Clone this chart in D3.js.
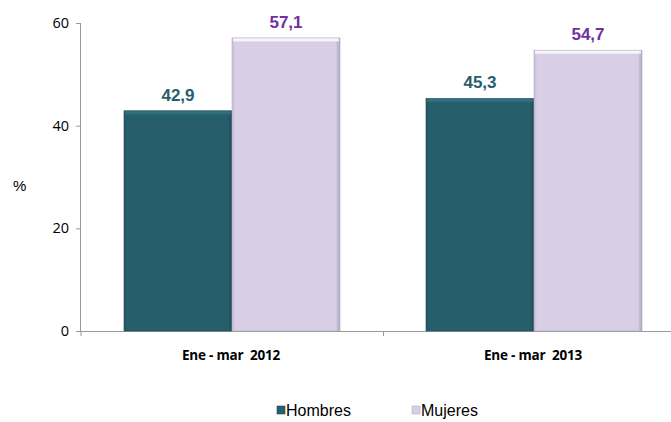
<!DOCTYPE html>
<html>
<head>
<meta charset="utf-8">
<script src="https://cdn.jsdelivr.net/npm/d3@7"></script>
<style>
  body { margin: 0; background: #fff; }
  svg { display: block; }
</style>
</head>
<body>
<div id="chart"></div>
<script>
// data
var categories = ["Ene - mar  2012", "Ene - mar  2013"];
var series = ["Hombres", "Mujeres"];
var hombres = [42.9, 45.3];
var mujeres = [57.1, 54.7];
var yTicks = [0, 20, 40, 60];

var colors = { Hombres: "#275e6c", Mujeres: "#d8cee6" };
var labelColors = { Hombres: "#275e6c", Mujeres: "#7030a0" };

var W = 671, H = 422;
var plotLeft = 81, plotTop = 23, plotBottom = 331, plotRight = 685;

var svg = d3.select("#chart").append("svg")
    .attr("width", W)
    .attr("height", H);

var defs = svg.append("defs");

// bevel-ish gradients (sides darker)
function bevel(id, base) {
  var c = d3.color(base);
  var g = defs.append("linearGradient").attr("id", id)
      .attr("x1", 0).attr("x2", 1).attr("y1", 0).attr("y2", 0);
  g.append("stop").attr("offset", "0%").attr("stop-color", c.darker(0.25));
  g.append("stop").attr("offset", "3%").attr("stop-color", base);
  g.append("stop").attr("offset", "96%").attr("stop-color", base);
  g.append("stop").attr("offset", "100%").attr("stop-color", c.darker(0.6));
}
bevel("g-Hombres", colors.Hombres);
bevel("g-Mujeres", colors.Mujeres);

var rows = categories.map(function(c, i) {
  return { cat: c, Hombres: hombres[i], Mujeres: mujeres[i] };
});

var y = d3.scaleLinear().domain([0, 60]).range([plotBottom, plotTop]);
var x0 = d3.scaleBand().domain(categories).range([plotLeft, plotRight]).padding(0);
var x1 = d3.scaleBand().domain(series).range([0, x0.bandwidth()])
    .paddingInner(0).paddingOuter(0.398);

// y axis
var yAxis = d3.axisLeft(y).tickValues(yTicks).tickSize(5).tickPadding(7);
var gy = svg.append("g").attr("transform", "translate(" + plotLeft + ",0)").call(yAxis);
gy.select(".domain").attr("stroke", "#999").attr("d", "M-0.5," + plotTop + "V" + plotBottom);
gy.selectAll(".tick line").attr("stroke", "#999");
gy.selectAll(".tick text")
    .attr("font-family", "'Open Sans', sans-serif")
    .attr("font-size", 14.5)
    .attr("fill", "#000");

// x axis
svg.append("line")
    .attr("x1", plotLeft - 5).attr("x2", W)
    .attr("y1", plotBottom + 0.5).attr("y2", plotBottom + 0.5)
    .attr("stroke", "#999");
svg.append("line")
    .attr("x1", plotLeft).attr("x2", plotLeft)
    .attr("y1", plotBottom).attr("y2", plotBottom + 5)
    .attr("stroke", "#999");
svg.append("line")
    .attr("x1", x0(categories[1]) + 0.5).attr("x2", x0(categories[1]) + 0.5)
    .attr("y1", plotBottom).attr("y2", plotBottom + 5)
    .attr("stroke", "#999");

svg.selectAll(".cat")
    .data(categories)
    .enter().append("text")
    .attr("x", function(d) { return x0(d) + x0.bandwidth() / 2 - 1; })
    .attr("y", 360)
    .attr("text-anchor", "middle")
    .attr("font-family", "'Open Sans', sans-serif")
    .attr("font-weight", "bold")
    .attr("font-size", 13.5)
    .attr("letter-spacing", -0.2)
    .attr("xml:space", "preserve")
    .text(function(d) { return d; });

// y title
svg.append("text")
    .attr("x", 13).attr("y", 191)
    .attr("font-family", "'Liberation Sans', Arial, sans-serif")
    .attr("font-size", 15)
    .text("%");

// bars
var groups = svg.selectAll(".grp")
    .data(rows)
    .enter().append("g")
    .attr("transform", function(d) { return "translate(" + x0(d.cat) + ",0)"; });

groups.selectAll("rect.bar")
    .data(function(d) { return series.map(function(s) { return { key: s, value: d[s] }; }); })
    .enter().append("rect")
    .attr("class", "bar")
    .attr("x", function(d) { return x1(d.key); })
    .attr("y", function(d) { return y(d.value); })
    .attr("width", x1.bandwidth())
    .attr("height", function(d) { return y(0) - y(d.value); })
    .attr("fill", function(d) { return "url(#g-" + d.key + ")"; })
    .attr("stroke", function(d) { return d3.color(colors[d.key]).darker(0.5); })
    .attr("stroke-width", 0.6);

// top highlight strip
groups.selectAll("rect.hl")
    .data(function(d) { return series.map(function(s) { return { key: s, value: d[s] }; }); })
    .enter().append("rect")
    .attr("class", "hl")
    .attr("x", function(d) { return x1(d.key) + 1; })
    .attr("y", function(d) { return y(d.value) + 0.5; })
    .attr("width", x1.bandwidth() - 2)
    .attr("height", 3)
    .attr("fill", function(d) { return d3.color(colors[d.key]).brighter(0.6); })
    .attr("opacity", 0.8);

groups.selectAll("text.val")
    .data(function(d) { return series.map(function(s) { return { key: s, value: d[s] }; }); })
    .enter().append("text")
    .attr("class", "val")
    .attr("x", function(d) { return x1(d.key) + x1.bandwidth() / 2; })
    .attr("y", function(d) { return y(d.value) - 10; })
    .attr("text-anchor", "middle")
    .attr("font-family", "'Liberation Sans', Arial, sans-serif")
    .attr("font-weight", "bold")
    .attr("font-size", 17)
    .attr("fill", function(d) { return labelColors[d.key]; })
    .text(function(d) { return d3.format(".1f")(d.value).replace(".", ","); });

// legend
var legendX = [277, 412];
var legend = svg.selectAll(".leg")
    .data(series)
    .enter().append("g")
    .attr("transform", function(d, i) { return "translate(" + legendX[i] + ",406)"; });
legend.append("rect")
    .attr("width", 8).attr("height", 8)
    .attr("fill", function(d) { return colors[d]; })
    .attr("stroke", function(d) { return d3.color(colors[d]).darker(0.5); })
    .attr("stroke-width", 0.6);
legend.append("text")
    .attr("x", 9).attr("y", 10)
    .attr("font-family", "'Liberation Sans', Arial, sans-serif")
    .attr("font-size", 16)
    .text(function(d) { return d; });
</script>
</body>
</html>
